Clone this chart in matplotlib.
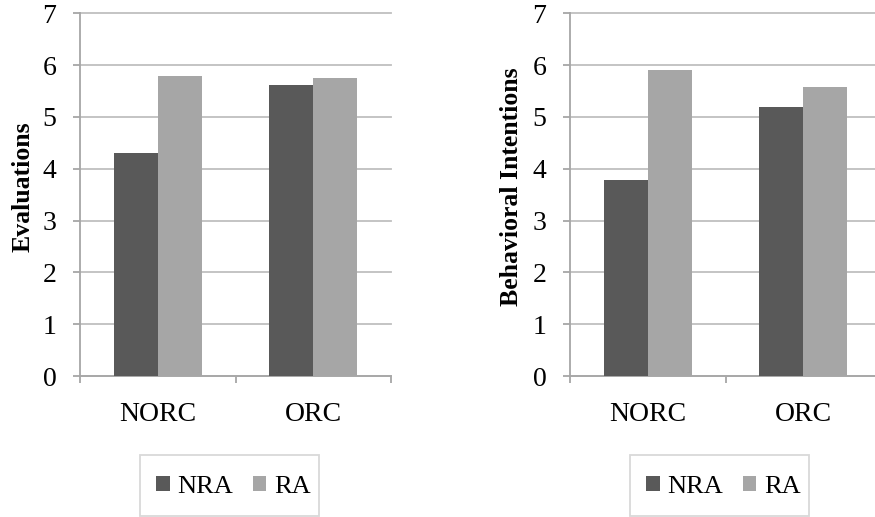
import matplotlib
matplotlib.use("Agg")
import matplotlib.pyplot as plt
from matplotlib.patches import Patch, Rectangle
import numpy as np

categories = ["NORC", "ORC"]
series_names = ["NRA", "RA"]
evaluations_nra = [4.31, 5.62]
evaluations_ra = [5.79, 5.75]
intentions_nra = [3.79, 5.20]
intentions_ra = [5.90, 5.57]
yticks = [0, 1, 2, 3, 4, 5, 6, 7]

plt.rcParams['font.family'] = ['Liberation Serif', 'DejaVu Serif']

W, H = 875, 517
fig = plt.figure(figsize=(W / 100, H / 100), dpi=100)

dark = '#595959'
light = '#a6a6a6'
gridc = '#bfbfbf'
bw = 0.283

def px(x0, y0, x1, y1):
    return [x0 / W, 1 - y1 / H, (x1 - x0) / W, (y1 - y0) / H]

panels = [
    (px(80, 13.3, 391, 376), evaluations_nra, evaluations_ra, "Evaluations", 23, 140),
    (px(570, 13.3, 881, 376), intentions_nra, intentions_ra, "Behavioral Intentions", 512, 630),
]

for rect, nra, ra, ylabel, ylx, legx in panels:
    ax = fig.add_axes(rect)
    x = np.arange(len(categories))
    ax.bar(x - bw / 2, nra, width=bw, color=dark, zorder=3, label=series_names[0])
    ax.bar(x + bw / 2, ra, width=bw, color=light, zorder=3, label=series_names[1])
    ax.set_xlim(-0.5, len(categories) - 0.5)
    ax.set_ylim(0, 7)
    ax.set_yticks(yticks)
    ax.set_yticklabels([str(t) for t in yticks])
    ax.yaxis.grid(True, color=gridc, linewidth=1.3, zorder=0)
    for ln in ax.get_ygridlines():
        ln.set_clip_on(False)
    ax.set_axisbelow(True)
    for s in ['top', 'right']:
        ax.spines[s].set_visible(False)
    for s in ['left', 'bottom']:
        ax.spines[s].set_color('#a6a6a6')
        ax.spines[s].set_linewidth(1.3)
    ax.set_xticks(x)
    ax.set_xticklabels(categories)
    ax.set_xticks(np.arange(-0.5, len(categories), 1.0), minor=True)
    ax.tick_params(axis='x', which='major', length=0, pad=19, labelsize=20)
    ax.tick_params(axis='x', which='minor', length=5, width=1.3, color='#a6a6a6')
    ax.tick_params(axis='y', length=5, width=1.3, color='#a6a6a6', pad=12, labelsize=20)
    fig.text(ylx / W, 1 - 187 / H, ylabel, rotation=90, ha='center', va='center',
             fontsize=18.5, fontweight='bold')
    # legend box
    fig.patches.append(Rectangle((legx / W, 1 - 516 / H), 179 / W, 61 / H,
                                 transform=fig.transFigure, facecolor='white',
                                 edgecolor='#d9d9d9', linewidth=1.3))
    handles = [Patch(facecolor=dark, edgecolor='none'), Patch(facecolor=light, edgecolor='none')]
    fig.legend(handles, series_names, loc='center', ncol=2, frameon=False,
               bbox_to_anchor=((legx + 93.5) / W, 1 - 487 / H), fontsize=19,
               handlelength=0.5, handleheight=0.5, handletextpad=0.3,
               columnspacing=0.75, borderpad=0, borderaxespad=0)

fig.savefig("out.png", dpi=100)
